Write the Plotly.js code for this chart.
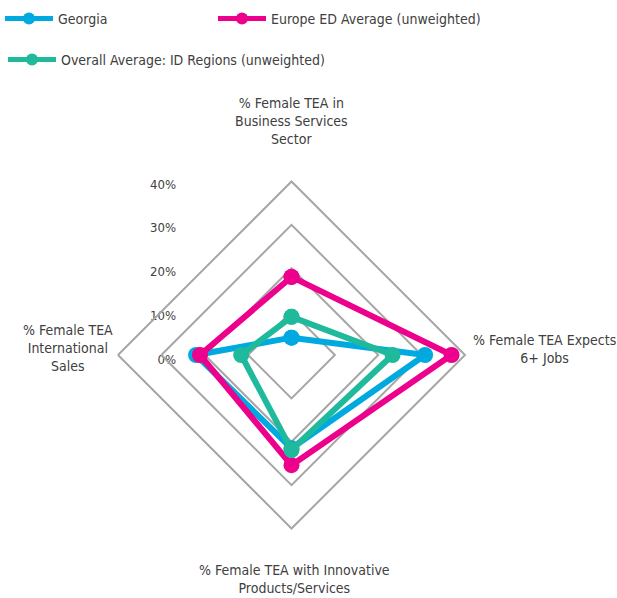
<!DOCTYPE html>
<html>
<head>
<meta charset="utf-8">
<script src="https://cdn.plot.ly/plotly-3.0.1.min.js"></script>
<style>html,body{margin:0;padding:0;background:#fff;}#chart{width:617px;height:598px;}</style>
</head>
<body>
<div id="chart"></div>
<script>
// ---- data ----
const categories = [
  "% Female TEA in<br>Business Services<br>Sector",
  "% Female TEA Expects<br>6+ Jobs",
  "% Female TEA with Innovative<br>Products/Services",
  "% Female TEA<br>International<br>Sales"
];
const seriesNames = ["Georgia", "Europe ED Average (unweighted)", "Overall Average: ID Regions (unweighted)"];
const georgia = [4.0, 30.8, 21.5, 22.0];
const europe  = [18.0, 36.9, 25.4, 21.1];
const overall = [8.8, 23.3, 21.9, 11.6];
const tickValues = [0, 10, 20, 30, 40];
const tickLabels = ["0%", "10%", "20%", "30%", "40%"];

// ---- styles ----
const W = 617, H = 598;
const FONT = "DejaVu Sans Condensed, Liberation Sans Narrow, Roboto, sans-serif";
const TXT = "#404040";
const GRID = "#a6a6a6";
const colors = ["#00a9e0", "#ec008c", "#1fba9c"];
const seriesVals = [georgia, europe, overall];

const px = x => x / W;
const py = y => 1 - y / H;

// polar centre (291.5, 355), radius 173.5
const polarDomain = { x: [px(118), px(465)], y: [py(528.5), py(181.5)] };

const traces = seriesVals.map((vals, i) => ({
  type: "scatterpolar",
  r: vals.concat([vals[0]]),
  theta: categories.concat([categories[0]]),
  mode: "lines+markers",
  name: seriesNames[i],
  line: { color: colors[i], width: 6 },
  marker: { color: colors[i], size: 16 },
  legend: i === 0 ? "legend" : (i === 1 ? "legend2" : "legend3"),
  hoverinfo: "skip"
}));
// invisible cartesian trace so that the percentage scale axis is drawn
traces.push({ type: "scatter", x: [null], y: [null], showlegend: false, hoverinfo: "skip", xaxis: "x", yaxis: "y" });

const legendBase = {
  orientation: "h", xanchor: "left", yanchor: "top",
  font: { family: FONT, size: 14, color: TXT },
  bgcolor: "rgba(0,0,0,0)", borderwidth: 0,
  itemwidth: 48, itemsizing: "constant"
};

// category label positions (text anchors) for the four axes
const labelPos = [
  { x: 291, y: 121, xanchor: "center", yanchor: "middle", align: "center" },
  { x: 544, y: 349, xanchor: "center", yanchor: "middle", align: "center" },
  { x: 294, y: 579, xanchor: "center", yanchor: "middle", align: "center" },
  { x: 68,  y: 348, xanchor: "center", yanchor: "middle", align: "center" }
];

const layout = {
  width: W, height: H,
  margin: { l: 0, r: 0, t: 0, b: 0 },
  paper_bgcolor: "#fff", plot_bgcolor: "rgba(0,0,0,0)",
  font: { family: FONT, size: 14, color: TXT },
  showlegend: true,
  legend: Object.assign({}, legendBase, { x: px(0), y: py(3) }),
  legend2: Object.assign({}, legendBase, { x: px(213), y: py(3) }),
  legend3: Object.assign({}, legendBase, { x: px(3), y: py(44) }),
  polar: {
    domain: polarDomain,
    bgcolor: "rgba(0,0,0,0)",
    gridshape: "linear",
    radialaxis: {
      range: [0, 40], tickvals: tickValues, showticklabels: false,
      ticks: "", showline: false, gridcolor: GRID, gridwidth: 2
    },
    angularaxis: {
      rotation: 90, direction: "clockwise", showticklabels: false, ticks: "",
      showgrid: false, showline: true, linecolor: GRID, linewidth: 2
    }
  },
  xaxis: { visible: false, domain: [0, 0.01], anchor: "y", fixedrange: true },
  yaxis: {
    domain: [py(359), py(184)], range: [0, 40], anchor: "free", position: px(176),
    tickvals: tickValues, ticktext: tickLabels, showgrid: false, zeroline: false,
    showline: false, ticks: "", tickfont: { family: FONT, size: 13, color: TXT },
    fixedrange: true
  },
  annotations: categories.map((c, i) => Object.assign({
    text: c, xref: "paper", yref: "paper", showarrow: false,
    font: { family: FONT, size: 14, color: TXT }
  }, labelPos[i], { x: px(labelPos[i].x), y: py(labelPos[i].y) }))
};

Plotly.newPlot("chart", traces, layout, { staticPlot: true, displayModeBar: false });
</script>
</body>
</html>
